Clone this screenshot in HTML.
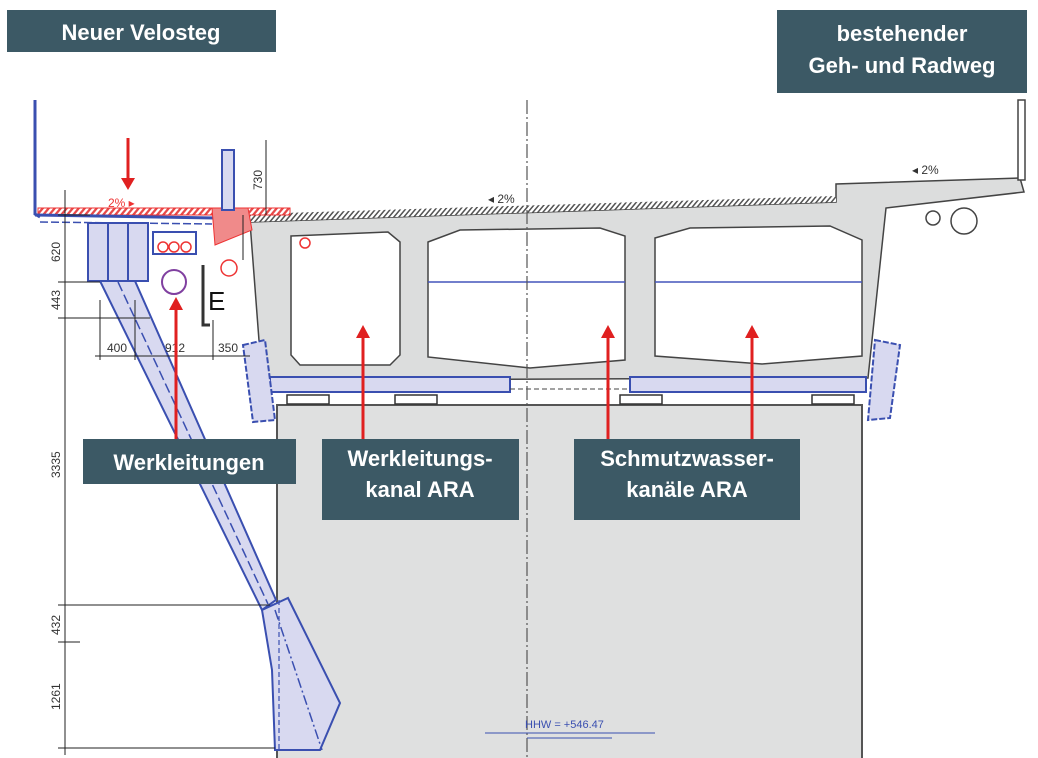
<!DOCTYPE html>
<html><head><meta charset="utf-8"><style>
html,body{margin:0;padding:0;background:#fff;}
svg{display:block;}
.lb{font-family:"Liberation Sans",sans-serif;font-weight:bold;fill:#fff;font-size:22px;}
.dim{font-family:"Liberation Sans",sans-serif;font-size:12px;fill:#333;}
</style></head><body>
<svg width="1038" height="758" viewBox="0 0 1038 758" xmlns="http://www.w3.org/2000/svg">
<defs>
<pattern id="hat" width="5" height="8" patternUnits="userSpaceOnUse" patternTransform="skewX(-40)">
<rect width="5" height="8" fill="#fff"/><rect width="2" height="8" fill="#555"/></pattern>
<pattern id="hatr" width="6" height="8" patternUnits="userSpaceOnUse" patternTransform="skewX(-40)">
<rect width="6" height="8" fill="#fff"/><rect width="3" height="8" fill="#e84a4a"/></pattern>
</defs>
<rect x="277" y="405" width="585" height="360" fill="#dfe0e0" stroke="#555" stroke-width="2"/>
<polygon points="250,222 836,202 836,184 1020,178 1024,192 886,208 868,378 262,380" fill="#dcdddd" stroke="#444" stroke-width="1.5"/>
<polygon points="250,214 836,196 836,202 250,222" fill="url(#hat)"/>
<polygon points="291,236 388,232 400,242 400,355 390,365 300,365 291,355" fill="#fff" stroke="#444" stroke-width="1.5"/>
<polygon points="428,242 460,230 600,228 625,236 625,360 530,368 428,357" fill="#fff" stroke="#444" stroke-width="1.5"/>
<polygon points="655,238 690,228 830,226 862,240 862,356 762,364 655,356" fill="#fff" stroke="#444" stroke-width="1.5"/>
<line x1="428" y1="282" x2="625" y2="282" stroke="#4455bb" stroke-width="1.5"/>
<line x1="655" y1="282" x2="862" y2="282" stroke="#4455bb" stroke-width="1.5"/>
<circle cx="305" cy="243" r="5" fill="none" stroke="#e33" stroke-width="1.5"/>
<circle cx="933" cy="218" r="7" fill="none" stroke="#444" stroke-width="1.5"/>
<circle cx="964" cy="221" r="13" fill="none" stroke="#444" stroke-width="1.5"/>
<rect x="270" y="377" width="240" height="15" fill="#d8d9f0" stroke="#3a4fb0" stroke-width="2"/>
<rect x="630" y="377" width="236" height="15" fill="#d8d9f0" stroke="#3a4fb0" stroke-width="2"/>
<line x1="510" y1="379" x2="630" y2="379" stroke="#444" stroke-dasharray="5,3"/>
<line x1="510" y1="389" x2="630" y2="389" stroke="#444" stroke-dasharray="5,3"/>
<polygon points="243,345 265,340 275,420 253,422" fill="#d8d9f0" stroke="#3a4fb0" stroke-width="2" stroke-dasharray="6,2"/>
<polygon points="875,340 900,345 890,418 868,420" fill="#d8d9f0" stroke="#3a4fb0" stroke-width="2" stroke-dasharray="6,2"/>
<g fill="#fff" stroke="#333" stroke-width="1.5">
<rect x="287" y="395" width="42" height="9"/><rect x="395" y="395" width="42" height="9"/>
<rect x="620" y="395" width="42" height="9"/><rect x="812" y="395" width="42" height="9"/></g>
<rect x="1018" y="100" width="7" height="80" fill="#fff" stroke="#444" stroke-width="1.5"/>
<line x1="527" y1="100" x2="527" y2="758" stroke="#555" stroke-width="1.2" stroke-dasharray="14,3,2,3"/>
<text class="dim" x="488" y="203" font-size="11">◂ 2%</text>
<text class="dim" x="912" y="174" font-size="11">◂ 2%</text>
<rect x="38" y="208" width="252" height="7" fill="url(#hatr)" stroke="#e33"/>
<line x1="35" y1="215" x2="215" y2="218" stroke="#3a4fb0" stroke-width="3"/>
<line x1="40" y1="222" x2="212" y2="224" stroke="#3a4fb0" stroke-width="1.5" stroke-dasharray="8,3"/>
<polyline points="35,100 35,214 40,217" fill="none" stroke="#3a4fb0" stroke-width="3"/>
<polygon points="212,208 248,208 252,230 215,245" fill="#f08a8a" stroke="#e33"/>
<rect x="222" y="150" width="12" height="60" fill="#d8d9f0" stroke="#3a4fb0" stroke-width="2"/>
<polygon points="100,281 135,281 276,600 262,610" fill="#d8d9f0" stroke="#3a4fb0" stroke-width="2"/>
<line x1="118" y1="282" x2="268" y2="604" stroke="#3a4fb0" stroke-width="1.5" stroke-dasharray="10,4"/>
<polygon points="262,610 288,598 340,703 320,750 275,750 272,670" fill="#d8d9f0" stroke="#3a4fb0" stroke-width="2"/>
<line x1="275" y1="610" x2="322" y2="750" stroke="#3a4fb0" stroke-width="1.5" stroke-dasharray="10,3,2,3"/>
<line x1="279" y1="600" x2="279" y2="750" stroke="#3a4fb0" stroke-width="1.2" stroke-dasharray="5,3"/>
<rect x="88" y="223" width="60" height="58" fill="#d8d9f0" stroke="#3a4fb0" stroke-width="2"/>
<line x1="108" y1="223" x2="108" y2="281" stroke="#3a4fb0" stroke-width="2"/>
<line x1="128" y1="223" x2="128" y2="281" stroke="#3a4fb0" stroke-width="2"/>
<rect x="153" y="232" width="43" height="22" fill="#fff" stroke="#3a4fb0" stroke-width="2"/>
<circle cx="163" cy="247" r="5" fill="none" stroke="#e33" stroke-width="1.5"/>
<circle cx="174" cy="247" r="5" fill="none" stroke="#e33" stroke-width="1.5"/>
<circle cx="186" cy="247" r="5" fill="none" stroke="#e33" stroke-width="1.5"/>
<circle cx="174" cy="282" r="12" fill="none" stroke="#8040a0" stroke-width="2"/>
<circle cx="229" cy="268" r="8" fill="none" stroke="#e33" stroke-width="1.5"/>
<path d="M203,265 V325 H210" fill="none" stroke="#333" stroke-width="3"/>
<text x="208" y="310" font-family="Liberation Sans,sans-serif" font-size="26" fill="#111">E</text>
<g stroke="#222" stroke-width="1">
<line x1="65" y1="190" x2="65" y2="755"/>
<line x1="58" y1="215" x2="90" y2="215"/><line x1="58" y1="282" x2="100" y2="282"/>
<line x1="58" y1="318" x2="150" y2="318"/><line x1="58" y1="605" x2="270" y2="605"/>
<line x1="58" y1="642" x2="80" y2="642"/><line x1="58" y1="748" x2="275" y2="748"/>
<line x1="95" y1="356" x2="250" y2="356"/>
<line x1="100" y1="300" x2="100" y2="360"/><line x1="135" y1="300" x2="135" y2="360"/>
<line x1="213" y1="320" x2="213" y2="360"/>
<line x1="266" y1="140" x2="266" y2="215"/>
<line x1="243" y1="215" x2="243" y2="260"/>
</g>
<g class="dim">
<text transform="translate(60,262) rotate(-90)">620</text>
<text transform="translate(60,310) rotate(-90)">443</text>
<text transform="translate(60,478) rotate(-90)">3335</text>
<text transform="translate(60,635) rotate(-90)">432</text>
<text transform="translate(60,710) rotate(-90)">1261</text>
<text transform="translate(262,190) rotate(-90)">730</text>
<text x="107" y="352">400</text><text x="165" y="352">912</text><text x="218" y="352">350</text>
</g>
<text x="108" y="207" font-family="Liberation Sans,sans-serif" font-size="12" fill="#e33">2%  ▸</text>
<text x="525" y="728" font-family="Liberation Sans,sans-serif" font-size="11" fill="#3a4fb0">HHW = +546.47</text>
<line x1="485" y1="733" x2="655" y2="733" stroke="#3a4fb0"/>
<line x1="527" y1="738" x2="612" y2="738" stroke="#3a4fb0"/>
<g stroke="#e02020" stroke-width="3" fill="#e02020">
<line x1="128" y1="138" x2="128" y2="180"/><polygon points="121,178 135,178 128,190" stroke="none"/>
<line x1="176" y1="440" x2="176" y2="308"/><polygon points="169,310 183,310 176,297" stroke="none"/>
<line x1="363" y1="440" x2="363" y2="336"/><polygon points="356,338 370,338 363,325" stroke="none"/>
<line x1="608" y1="440" x2="608" y2="336"/><polygon points="601,338 615,338 608,325" stroke="none"/>
<line x1="752" y1="440" x2="752" y2="336"/><polygon points="745,338 759,338 752,325" stroke="none"/>
</g>
<g fill="#3c5965">
<rect x="7" y="10" width="269" height="42"/>
<rect x="777" y="10" width="250" height="83"/>
<rect x="83" y="439" width="213" height="45"/>
<rect x="322" y="439" width="197" height="81"/>
<rect x="574" y="439" width="226" height="81"/>
</g>
<text class="lb" x="141" y="40" text-anchor="middle">Neuer Velosteg</text>
<text class="lb" x="902" y="41" text-anchor="middle">bestehender</text>
<text class="lb" x="902" y="73" text-anchor="middle">Geh- und Radweg</text>
<text class="lb" x="189" y="470" text-anchor="middle">Werkleitungen</text>
<text class="lb" x="420" y="466" text-anchor="middle">Werkleitungs-</text>
<text class="lb" x="420" y="497" text-anchor="middle">kanal ARA</text>
<text class="lb" x="687" y="466" text-anchor="middle">Schmutzwasser-</text>
<text class="lb" x="687" y="497" text-anchor="middle">kanäle ARA</text>
</svg>
</body></html>
